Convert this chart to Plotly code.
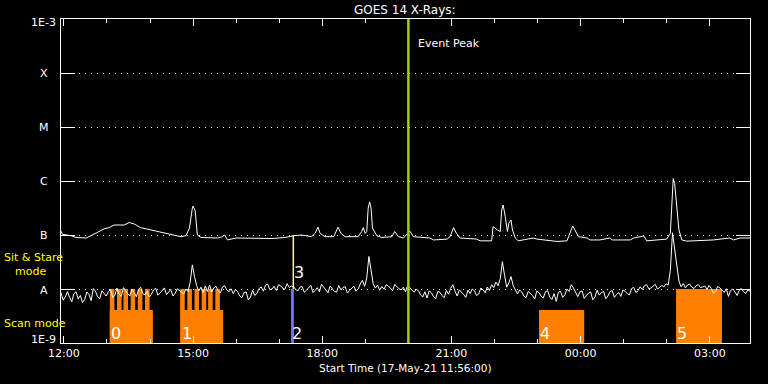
import math
from datetime import datetime, timedelta
import plotly.graph_objects as go

# ---------------- data ----------------
START = datetime(2021, 5, 17, 11, 56)
END = START + timedelta(hours=16)

# long channel (1-8 A), minutes after start, flux in nW/m^2
upper_t_min = [0, 2, 14, 21, 35, 42, 51, 60, 67, 74, 88, 95, 102, 111, 125, 139, 153, 167, 174, 179,
               183, 184, 187, 190, 195, 218, 225, 228, 232, 244, 270, 294, 312, 324, 335, 349, 354, 358, 361, 368,
               380, 383, 386, 390, 396, 414, 419, 421, 424, 426, 428, 430, 432, 434, 440, 447, 461, 465, 470, 477,
               482, 486, 491, 500, 514, 519, 538, 542, 547, 551, 556, 579, 584, 600, 602, 608, 612, 614, 616, 619,
               622, 624, 627, 629, 633, 637, 658, 663, 691, 705, 709, 713, 716, 721, 733, 737, 751, 765, 768, 793,
               798, 812, 816, 844, 849, 851, 853, 855, 858, 861, 865, 872, 909, 932, 937, 946, 960]
upper_flux_nw = [118, 103, 97, 90, 88, 97, 112, 130, 137, 153, 153, 170, 160, 137, 124, 112, 100, 93, 97, 134,
                 315, 343, 280, 100, 90, 88, 93, 100, 81, 88, 87, 86, 90, 97, 100, 93, 107, 140, 107, 93,
                 93, 116, 140, 107, 93, 93, 116, 137, 107, 116, 315, 410, 315, 134, 97, 90, 93, 116, 93, 88,
                 103, 118, 93, 90, 88, 81, 84, 93, 137, 107, 88, 84, 78, 78, 143, 124, 116, 290, 360, 220,
                 116, 165, 190, 124, 88, 78, 88, 84, 76, 78, 107, 147, 124, 93, 88, 81, 81, 88, 81, 81,
                 88, 96, 78, 84, 107, 390, 1110, 900, 335, 124, 81, 77, 81, 88, 81, 88, 88]

# short channel (0.5-4 A), sampled every 3 minutes, flux in nW/m^2
lower_step_min = 3
lower_flux_nw = [
    8.5, 6.2, 7.1, 9.0, 7.0, 5.8, 8.2, 8.9, 6.5, 7.6,
    5.6, 6.4, 8.8, 7.9, 6.1, 10.2, 9.1, 7.2, 6.6, 9.3,
    8.3, 7.4, 8.9, 9.8, 7.0, 7.6, 10.4, 8.0, 7.3, 10.6,
    9.4, 8.1, 7.5, 10.0, 8.6, 7.2, 9.7, 10.8, 8.2, 7.8,
    9.0, 7.1, 8.0, 9.6, 10.3, 7.7, 8.4, 9.2, 10.5, 7.9,
    8.9, 9.8, 7.4, 8.3, 10.1, 9.4, 8.7, 8.1, 10.0, 9.0,
    13.5, 28, 17, 11.5, 9.2, 10.8, 8.6, 11.4, 9.0, 11.9,
    8.8, 10.5, 11.2, 9.3, 8.4, 10.9, 11.6, 9.6, 8.9, 10.1,
    8.2, 9.7, 9.0, 7.4, 6.9, 8.6, 8.8, 6.3, 7.1, 9.4,
    7.6, 8.3, 10.2, 10.9, 9.1, 11.8, 12.3, 9.7, 10.0, 11.2,
    9.4, 12.0, 11.5, 10.3, 9.9, 12.6, 10.7, 11.3, 11.0, 9.8,
    9.2, 10.8, 11.1, 8.7, 9.5, 10.4, 11.7, 8.6, 9.3, 10.6,
    8.9, 12.2, 10.9, 9.7, 8.5, 11.4, 10.2, 9.0, 8.8, 11.6,
    9.6, 10.7, 11.0, 8.4, 9.4, 10.5, 11.3, 9.1, 10.0, 12.4,
    14.5, 11.2, 16, 40, 22, 12.5, 10.4, 11.8, 9.5, 11.1,
    9.9, 12.0, 11.4, 10.2, 9.3, 12.2, 11.0, 10.1, 9.6, 10.8,
    8.9, 11.5, 10.6, 9.8, 8.7, 9.9, 9.3, 7.8, 7.1, 8.9,
    6.8, 9.2, 8.5, 7.3, 6.6, 9.0, 8.7, 7.5, 6.9, 9.4,
    8.0, 10.3, 12.0, 9.1, 7.4, 9.6, 8.8, 7.9, 7.0, 9.5,
    8.2, 10.0, 9.3, 7.6, 8.1, 10.4, 9.7, 8.5, 10.9, 9.4,
    12.0, 10.6, 13.4, 11.5, 15.5, 32, 18, 10.8, 13.0, 17.0,
    11.6, 9.4, 8.1, 9.6, 8.8, 7.4, 6.9, 9.0, 8.4, 7.6,
    6.5, 9.2, 8.6, 7.3, 6.8, 8.9, 9.3, 7.1, 6.4, 8.2,
    5.9, 8.7, 9.1, 7.0, 7.8, 10.0, 9.0, 12.0, 10.5, 8.6,
    7.2, 8.9, 9.2, 6.7, 7.5, 8.4, 8.8, 6.3, 7.1, 9.5,
    7.7, 8.6, 9.0, 6.6, 7.4, 8.9, 9.4, 7.0, 7.9, 8.7,
    7.3, 9.6, 9.1, 8.2, 7.8, 10.2, 10.7, 8.6, 9.3, 11.0,
    9.8, 11.6, 12.0, 10.1, 10.4, 11.3, 12.2, 10.0, 10.6, 11.7,
    10.9, 12.5, 11.8, 22, 110, 55, 26, 14, 11.0, 12.6,
    10.5, 11.9, 12.3, 10.8, 10.2, 11.5, 12.1, 10.6, 10.9, 11.4,
    9.8, 11.7, 10.3, 8.4, 9.0, 11.1, 10.5, 9.7, 8.6, 10.1,
    7.3, 9.4, 10.0, 8.8, 7.6, 9.5, 10.2, 8.9, 8.3, 9.6,
    9.1,
]

goes_levels = [1e-9, 1e-8, 1e-7, 1e-6, 1e-5, 1e-4, 1e-3]
goes_labels = ["1E-9", "A", "B", "C", "M", "X", "1E-3"]

# observation blocks (minutes after start)
obs_labels = ["0", "1", "2", "4", "5"]
obs_start_min = [68, 167, 320.5, 666, 857]
obs_end_min = [128, 226, 324.5, 729, 921]
obs_level_nw = [4.1, 4.1, 10, 4.1, 10]
obs_colors = ["#ff8000", "#ff8000", "#7272ff", "#ff8000", "#ff8000"]

# sit & stare pulses within scan blocks 0 and 1
stare_start_min = [68, 78, 87, 97, 107, 117, 166, 176, 186, 196, 205, 215]
stare_len_min = 6.4
stare_level_nw = 10

marker3_label = "3"
marker3_min = 323.7
marker3_range_nw = [10, 100]
event_peak_min = 484

NW = 1e-9
ORANGE = "#ff8000"
FONT = "DejaVu Sans"


def T(m):
    return START + timedelta(minutes=m)


fig = go.Figure()

# observation blocks
for lab, s, e, lvl, col in zip(obs_labels, obs_start_min, obs_end_min, obs_level_nw, obs_colors):
    fig.add_trace(go.Scatter(
        x=[T(s), T(s), T(e), T(e), T(s)],
        y=[1e-9, lvl * NW, lvl * NW, 1e-9, 1e-9],
        mode="lines", line=dict(width=0), fill="toself", fillcolor=col,
        hoverinfo="skip"))

for s in stare_start_min:
    e = s + stare_len_min
    fig.add_trace(go.Scatter(
        x=[T(s), T(s), T(e), T(e), T(s)],
        y=[1e-9, stare_level_nw * NW, stare_level_nw * NW, 1e-9, 1e-9],
        mode="lines", line=dict(width=0), fill="toself", fillcolor=ORANGE,
        hoverinfo="skip"))

# marker 3 line
fig.add_trace(go.Scatter(
    x=[T(marker3_min), T(marker3_min)],
    y=[marker3_range_nw[0] * NW, marker3_range_nw[1] * NW],
    mode="lines", line=dict(color="#ffff70", width=1.5), hoverinfo="skip"))

# light curves
fig.add_trace(go.Scatter(
    x=[T(i * lower_step_min) for i in range(len(lower_flux_nw))],
    y=[v * NW for v in lower_flux_nw],
    mode="lines", line=dict(color="white", width=1), hoverinfo="skip"))
fig.add_trace(go.Scatter(
    x=[T(m) for m in upper_t_min],
    y=[v * NW for v in upper_flux_nw],
    mode="lines", line=dict(color="white", width=1), hoverinfo="skip"))

# event peak line
fig.add_shape(type="line", xref="x", yref="paper",
              x0=T(event_peak_min), x1=T(event_peak_min), y0=0, y1=1,
              line=dict(color="#a4d00c", width=2.5), layer="above")

ann = []
# title
ann.append(dict(text="GOES 14 X-Rays:", xref="paper", yref="paper", x=0.4993, y=1.0278,
                xanchor="center", yanchor="middle", showarrow=False,
                font=dict(family=FONT, size=12, color="white")))
# left level labels
for lab, v in zip(goes_labels, goes_levels):
    if lab.startswith("1E"):
        ysh = -3.7 if lab == "1E-3" else 3.5
        ann.append(dict(text=lab, xref="paper", yref="y", x=(57.5 - 61) / 689, y=math.log10(v),
                        yshift=ysh, xanchor="right", yanchor="middle", showarrow=False,
                        font=dict(family=FONT, size=11, color="white")))
    else:
        ann.append(dict(text=lab, xref="paper", yref="y", x=(44 - 61) / 689, y=math.log10(v),
                        yshift=-1 if lab == "A" else 0, xanchor="center", yanchor="middle",
                        showarrow=False, font=dict(family=FONT, size=11, color="white")))
# mode labels
for txt, xp, yp in [("Sit &amp; Stare", 2, 257.5), ("mode", 13, 271), ("Scan mode", 2, 323)]:
    ann.append(dict(text=txt, xref="paper", yref="paper", x=(xp - 61) / 689, y=(343 - yp) / 324,
                    xanchor="left", yanchor="middle", showarrow=False,
                    font=dict(family=FONT, size=11, color="#ffff00")))
# observation labels
for lab, s in zip(obs_labels, obs_start_min):
    ann.append(dict(text=lab, xref="x", yref="paper", x=T(s), y=(343 - 333) / 324,
                    xanchor="left", yanchor="middle", showarrow=False, xshift=-1,
                    font=dict(family=FONT, size=16, color="white")))
ann.append(dict(text=marker3_label, xref="x", yref="paper", x=T(marker3_min), y=(343 - 272) / 324,
                xanchor="left", yanchor="middle", showarrow=False, xshift=-1,
                font=dict(family=FONT, size=16, color="white")))
ann.append(dict(text="Event Peak", xref="x", yref="paper", x=T(event_peak_min), y=(343 - 43) / 324,
                xanchor="left", yanchor="middle", showarrow=False, xshift=8,
                font=dict(family=FONT, size=11, color="white")))
ann.append(dict(text="Start Time (17-May-21 11:56:00)", xref="paper", yref="paper",
                x=0.4993, y=-(368 - 343) / 324, xanchor="center", yanchor="middle", showarrow=False,
                font=dict(family=FONT, size=10.5, color="white")))

fig.update_layout(
    width=768, height=384,
    margin=dict(l=61, r=18, t=19, b=41),
    paper_bgcolor="black", plot_bgcolor="black",
    showlegend=False,
    annotations=ann,
    xaxis=dict(type="date", range=[START, END], showline=True, linecolor="white", linewidth=1,
               mirror="ticks", ticks="inside", ticklen=7, tickwidth=1, tickcolor="white",
               tick0=datetime(2021, 5, 17, 12), dtick=3 * 3600000, tickformat="%H:%M",
               tickfont=dict(family=FONT, size=11, color="white"),
               showgrid=False, zeroline=False,
               minor=dict(ticks="inside", ticklen=4, dtick=3600000, tickcolor="white",
                          tickwidth=1, showgrid=False)),
    yaxis=dict(type="log", range=[-9, -3], tickvals=goes_levels, showticklabels=False,
               ticks="inside", ticklen=14, tickwidth=1, tickcolor="white", mirror="ticks",
               showline=True, linecolor="white", linewidth=1,
               showgrid=True, gridcolor="white", gridwidth=1, griddash="1px,5px",
               zeroline=False),
)

fig.write_html("out.html")
